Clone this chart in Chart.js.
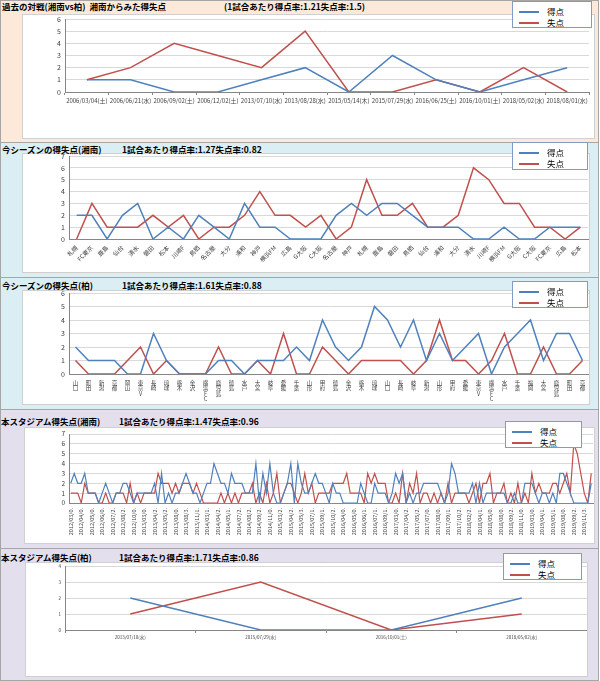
<!DOCTYPE html>
<html><head><meta charset="utf-8">
<script src="https://cdn.jsdelivr.net/npm/chart.js@4.4.1/dist/chart.umd.min.js"></script>
<style>
body{margin:0;width:600px;height:681px;position:relative;overflow:hidden;background:#fff;font-family:"Noto Sans CJK JP","Noto Sans",sans-serif}
.panel{position:absolute;left:0;width:599px;border:1px solid #a6a6a6;box-sizing:border-box}
.box{position:absolute;background:#fff;border:1px solid #d0d0d0;box-sizing:border-box}
.title{position:absolute;font-size:8.5px;font-weight:bold;white-space:nowrap;color:#000;line-height:10px}
canvas{position:absolute}
.legend{position:absolute;background:#fff;border:1.5px solid #7f9cc5;box-sizing:border-box;z-index:5}
.li{position:absolute;left:0;height:11px;width:100%;font-size:8.5px;line-height:11px;color:#000}
.sw{position:absolute;left:6px;top:5px;width:20px;height:2px}
.lt{position:absolute;left:34px;top:0}
</style></head><body>

<div class="panel" style="top:0;height:143px;background:#FDE9D9"></div>
<div class="panel" style="top:142px;height:136px;background:#DAEEF3"></div>
<div class="panel" style="top:277px;height:133px;background:#DAEEF3"></div>
<div class="panel" style="top:409px;height:140px;background:#E4DFEC"></div>
<div class="panel" style="top:548px;height:133px;background:#E4DFEC"></div>

<div class="box" style="left:22px;top:14px;width:573px;height:125px"></div>
<div class="box" style="left:22px;top:153px;width:568px;height:120px"></div>
<div class="box" style="left:22px;top:290px;width:568px;height:115px"></div>
<div class="box" style="left:24px;top:427px;width:571px;height:117px"></div>
<div class="box" style="left:25px;top:562px;width:563px;height:115px"></div>

<div class="title" style="left:2px;top:1px">過去の対戦(湘南vs柏)&nbsp;&nbsp;湘南からみた得失点</div>
<div class="title" style="left:224px;top:1px">(1試合あたり得点率:1.21失点率:1.5)</div>
<div class="title" style="left:2px;top:144px">今シーズンの得失点(湘南)</div>
<div class="title" style="left:122px;top:144px">1試合あたり得点率:1.27失点率:0.82</div>
<div class="title" style="left:2px;top:280px">今シーズンの得失点(柏)</div>
<div class="title" style="left:122px;top:280px">1試合あたり得点率:1.61失点率:0.88</div>
<div class="title" style="left:1px;top:416px">本スタジアム得失点(湘南)</div>
<div class="title" style="left:119px;top:416px">1試合あたり得点率:1.47失点率:0.96</div>
<div class="title" style="left:1px;top:552px">本スタジアム得失点(柏)</div>
<div class="title" style="left:119px;top:552px">1試合あたり得点率:1.71失点率:0.86</div>

<canvas id="c1"></canvas>
<canvas id="c2"></canvas>
<canvas id="c3"></canvas>
<canvas id="c4"></canvas>
<canvas id="c5"></canvas>

<div class="legend" style="left:512px;top:1px;width:80px;height:27px"><div class="li" style="top:4px"><span class="sw" style="background:#4F81BD"></span><span class="lt">得点</span></div><div class="li" style="top:15px"><span class="sw" style="background:#C0504D"></span><span class="lt">失点</span></div></div>
<div class="legend" style="left:512px;top:142px;width:76px;height:28px"><div class="li" style="top:4px"><span class="sw" style="background:#4F81BD"></span><span class="lt">得点</span></div><div class="li" style="top:15px"><span class="sw" style="background:#C0504D"></span><span class="lt">失点</span></div></div>
<div class="legend" style="left:512px;top:281px;width:76px;height:27px"><div class="li" style="top:4px"><span class="sw" style="background:#4F81BD"></span><span class="lt">得点</span></div><div class="li" style="top:15px"><span class="sw" style="background:#C0504D"></span><span class="lt">失点</span></div></div>
<div class="legend" style="left:505px;top:421px;width:77px;height:27px"><div class="li" style="top:4px"><span class="sw" style="background:#4F81BD"></span><span class="lt">得点</span></div><div class="li" style="top:15px"><span class="sw" style="background:#C0504D"></span><span class="lt">失点</span></div></div>
<div class="legend" style="left:503px;top:553px;width:79px;height:27px"><div class="li" style="top:4px"><span class="sw" style="background:#4F81BD"></span><span class="lt">得点</span></div><div class="li" style="top:15px"><span class="sw" style="background:#C0504D"></span><span class="lt">失点</span></div></div>

<script>
// ---- Chart 1: head-to-head history ----
const h2hDates = ['2006/03/04(土)','2006/06/21(水)','2006/09/02(土)','2006/12/02(土)','2013/07/10(水)','2013/08/28(水)','2015/05/14(木)','2015/07/29(水)','2016/06/25(土)','2016/10/01(土)','2018/05/02(水)','2018/08/01(水)'];
const h2hFor = [1,1,0,0,1,2,0,3,1,0,1,2];
const h2hAgainst = [1,2,4,3,2,5,0,0,1,0,2,0];

// ---- Chart 2: this season (Shonan) ----
const shonanOpponents = ['札幌','FC東京','鹿島','仙台','清水','磐田','松本','川崎F','鳥栖','名古屋','大分','浦和','神戸','横浜FM','広島','G大阪','C大阪','名古屋','神戸','札幌','鹿島','磐田','鳥栖','仙台','浦和','大分','清水','川崎F','横浜FM','G大阪','C大阪','FC東京','広島','松本'];
const shonanFor = [2,2,0,2,3,0,1,0,2,1,0,3,1,1,0,0,0,2,3,2,3,3,2,1,1,1,0,0,1,0,0,1,1,1];
const shonanAgainst = [0,3,1,1,1,2,1,2,0,1,1,2,4,2,2,1,2,0,1,5,2,2,3,1,1,2,6,5,3,3,1,1,0,1];

// ---- Chart 3: this season (Kashiwa) ----
const kashiwaOpponents = ['山口','町田','新潟','京都','岡山','東京V','長崎','琉球','栃木','金沢','横浜FC','鹿児島','徳島','水戸','大宮','岐阜','愛媛','千葉','山形','甲府','徳島','金沢','栃木','琉球','山口','長崎','岐阜','新潟','山形','甲府','愛媛','東京V','横浜FC','水戸','千葉','福岡','大宮','鹿児島','町田','京都'];
const kashiwaFor = [2,1,1,1,0,0,3,1,0,0,0,1,1,0,1,1,1,2,1,4,2,1,2,5,4,2,4,1,3,1,2,3,0,2,3,4,1,3,3,1];
const kashiwaAgainst = [1,0,0,0,1,2,0,1,0,0,0,2,0,0,1,0,3,0,0,2,1,0,1,1,1,1,0,1,4,1,1,0,1,3,0,0,2,0,0,1];

// ---- Chart 4: this stadium (Shonan) ----
const stadiumTicks = ['2012/03/0.','2012/04/0.','2012/05/0.','2012/06/0.','2012/07/2.','2012/08/2.','2012/10/0.','2013/03/0.','2013/04/2.','2013/05/2.','2013/08/0.','2013/08/3.','2013/11/1.','2014/03/1.','2014/04/2.','2014/05/1.','2014/07/2.','2014/08/2.','2014/09/2.','2014/11/0.','2015/03/2.','2015/04/2.','2015/05/3.','2015/07/1.','2015/09/1.','2015/10/2.','2016/04/0.','2016/05/0.','2016/06/1.','2016/07/1.','2016/09/1.','2017/03/0.','2017/04/2.','2017/05/2.','2017/07/0.','2017/08/0.','2017/09/1.','2017/10/2.','2018/02/2.','2018/04/1.','2018/05/0.','2018/08/0.','2018/09/2.','2018/11/0.','2019/03/0.','2019/04/1.','2019/05/1.','2019/08/0.','2019/09/2.','2019/11/3.'];
const stadiumFor = [
2,3,2,2,3,1,1,1,0,1, 2,1,0,1,1,2,2,1,0,1, 1,1,1,1,2,0,3,0,1,0, 1,1,2,3,2,1,1,0,1,2,
2,4,3,2,2,1,3,2,2,2, 1,1,1,4,0,3,1,4,1,0, 0,1,2,4,0,4,2,1,1,2, 3,2,2,1,0,2,1,1,0,0,
0,0,0,2,1,0,0,2,1,1, 1,0,1,3,2,3,0,1,0,1, 1,2,2,2,2,2,1,0,1,4, 3,1,1,1,1,2,0,2,0,1,
1,1,1,1,1,0,0,1,0,0, 2,2,2,1,0,1,1,0,1,0, 3,3,2,1,0,0,0,0,0,2];
const stadiumAgainst = [
1,1,1,0,2,1,1,1,0,0, 1,0,0,1,1,1,0,2,0,1, 0,1,1,1,1,3,2,2,2,1, 2,1,2,2,2,1,2,1,0,0,
0,0,0,1,0,1,0,1,0,1, 1,1,2,0,1,0,2,0,1,3, 0,1,2,2,1,0,1,3,1,2, 0,1,1,1,1,2,2,2,2,3,
1,1,1,1,0,3,2,3,2,2, 2,0,0,1,0,3,0,2,1,3, 0,1,1,0,1,0,1,0,2,0, 1,1,1,1,0,1,2,0,2,2,
3,0,1,1,2,0,1,0,2,0, 1,0,3,1,2,1,1,1,2,2, 1,2,3,1,6,5,3,1,0,3];

// ---- Chart 5: this stadium (Kashiwa) ----
const kStadiumDates = ['2013/07/10(水)','2015/07/29(水)','2016/10/01(土)','2018/05/02(水)'];
const kStadiumFor = [2,0,0,2];
const kStadiumAgainst = [1,3,0,1];

const BLUE = '#4F81BD', RED = '#C0504D';
const FONT = '"Noto Sans CJK JP","Noto Sans",sans-serif';

function build(id, g, labels, forVals, againstVals, yMax, o) {
  const cv = document.getElementById(id);
  const cl = g.bl + 1, ct = g.pt - 6, cw = g.br - 1 - cl, ch = g.bb - 1 - ct;
  cv.style.left = cl + 'px'; cv.style.top = ct + 'px';
  cv.width = cw; cv.height = ch; cv.style.width = cw + 'px'; cv.style.height = ch + 'px';
  new Chart(cv, {
    type: 'line',
    data: { labels, datasets: [
      { label: '得点', data: forVals, borderColor: BLUE, backgroundColor: BLUE, borderWidth: o.lw, pointRadius: 0, tension: 0, fill: false },
      { label: '失点', data: againstVals, borderColor: RED, backgroundColor: RED, borderWidth: o.lw, pointRadius: 0, tension: 0, fill: false }
    ]},
    options: {
      responsive: false, animation: false, events: [],
      layout: { padding: { top: g.pt - ct, right: cl + cw - g.pr, left: 0, bottom: 0 } },
      plugins: { legend: { display: false }, tooltip: { enabled: false } },
      scales: {
        x: {
          offset: true,
          grid: { display: o.tickMarks, drawOnChartArea: false, offset: true, tickLength: 3, color: '#868686' },
          border: { display: true, color: '#868686' },
          ticks: { autoSkip: false, maxRotation: o.rot, minRotation: o.rot, padding: o.pad,
                   font: { size: o.xs, family: FONT, lineHeight: o.lh || 1.2 }, color: '#404040' },
          afterFit(s) { s.height = ct + ch - g.pb; s.paddingLeft = 0; s.paddingRight = 0; }
        },
        y: {
          min: 0, max: yMax,
          grid: { color: '#d9d9d9', drawTicks: false },
          border: { display: true, color: '#868686' },
          ticks: { stepSize: 1, autoSkip: false, padding: 4, font: { size: o.ys, family: FONT }, color: '#404040' },
          afterFit(s) { s.width = g.pl - cl; s.paddingTop = 0; s.paddingBottom = 0; }
        }
      }
    }
  });
}

build('c1', {bl:22, br:595, bb:139, pl:65, pr:589, pt:19, pb:92}, h2hDates, h2hFor, h2hAgainst, 6,
      {lw:1.5, rot:0, xs:6, ys:7, pad:2, tickMarks:true});
build('c2', {bl:22, br:590, bb:273, pl:69, pr:588, pt:156, pb:239}, shonanOpponents, shonanFor, shonanAgainst, 7,
      {lw:1.5, rot:45, xs:6, ys:7, pad:2, tickMarks:false});
build('c3', {bl:22, br:590, bb:405, pl:69, pr:589, pt:293, pb:374}, kashiwaOpponents.map(s => [...s]), kashiwaFor, kashiwaAgainst, 6,
      {lw:1.5, rot:0, xs:5.5, ys:7, pad:3, lh:1.0, tickMarks:false});
const stadiumCats = stadiumFor.map((_, i) => (i % 3 === 0 ? stadiumTicks[i / 3] : ''));
build('c4', {bl:24, br:595, bb:544, pl:69, pr:593, pt:434, pb:503}, stadiumCats, stadiumFor, stadiumAgainst, 7,
      {lw:1.2, rot:90, xs:5.5, ys:6.5, pad:2, tickMarks:false});
build('c5', {bl:25, br:588, bb:677, pl:65, pr:590, pt:566, pb:630}, kStadiumDates, kStadiumFor, kStadiumAgainst, 4,
      {lw:1.5, rot:0, xs:4.5, ys:4.5, pad:2, tickMarks:true});
</script>
</body></html>
